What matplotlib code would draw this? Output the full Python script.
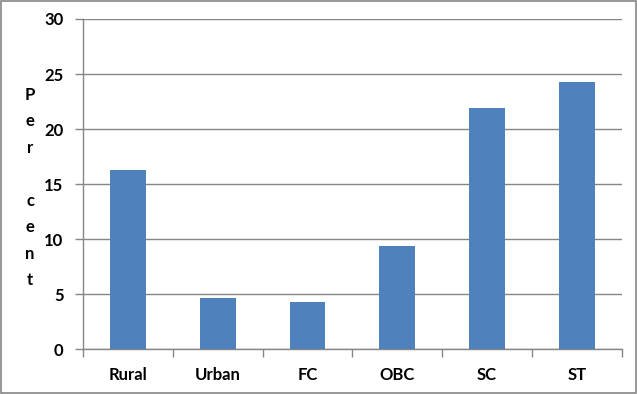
import matplotlib
matplotlib.use("Agg")
import matplotlib.pyplot as plt
from matplotlib.patches import Rectangle
import numpy as np

categories = ["Rural", "Urban", "FC", "OBC", "SC", "ST"]
percent = [16.3, 4.7, 4.3, 9.4, 21.9, 24.3]
yticks = [0, 5, 10, 15, 20, 25, 30]

plt.rcParams['font.family'] = ['Lato', 'DejaVu Sans']
grey = '#868686'

fig = plt.figure(figsize=(6.37, 3.94), dpi=100)
ax = fig.add_axes([0.1303, 0.1135, 0.8457, 0.8383])

x = np.arange(len(categories))
ax.bar(x, percent, width=0.4, color='#4F81BD', zorder=3)

ax.set_xlim(-0.5, len(categories) - 0.5)
ax.set_ylim(0, 30)
ax.set_yticks(yticks)
ax.set_yticklabels([str(v) for v in yticks], fontsize=12, fontweight='bold')
ax.set_xticks(x)
ax.set_xticklabels(categories, fontsize=12, fontweight='bold')
ax.tick_params(axis='x', length=0, pad=13)
ax.tick_params(axis='y', length=6, color=grey, width=1, pad=8)
# category boundary ticks on x axis
ax.set_xticks(np.arange(-0.5, len(categories)), minor=True)
ax.tick_params(axis='x', which='minor', length=6, color=grey, width=1)

ax.grid(axis='y', color=grey, linewidth=1, zorder=0)
for s in ['top', 'right']:
    ax.spines[s].set_visible(False)
for s in ['left', 'bottom']:
    ax.spines[s].set_color(grey)
    ax.spines[s].set_linewidth(1)

fig.text(30 / 637, 1 - 187.5 / 394, "P\ne\nr\n\nc\ne\nn\nt", ha='center', va='center',
         fontsize=12, fontweight='bold', linespacing=1.8)

fig.patches.append(Rectangle((0.001, 0.002), 0.997, 0.996, transform=fig.transFigure,
                             fill=False, edgecolor=grey, linewidth=1.2))

fig.savefig("out.png", dpi=100)
